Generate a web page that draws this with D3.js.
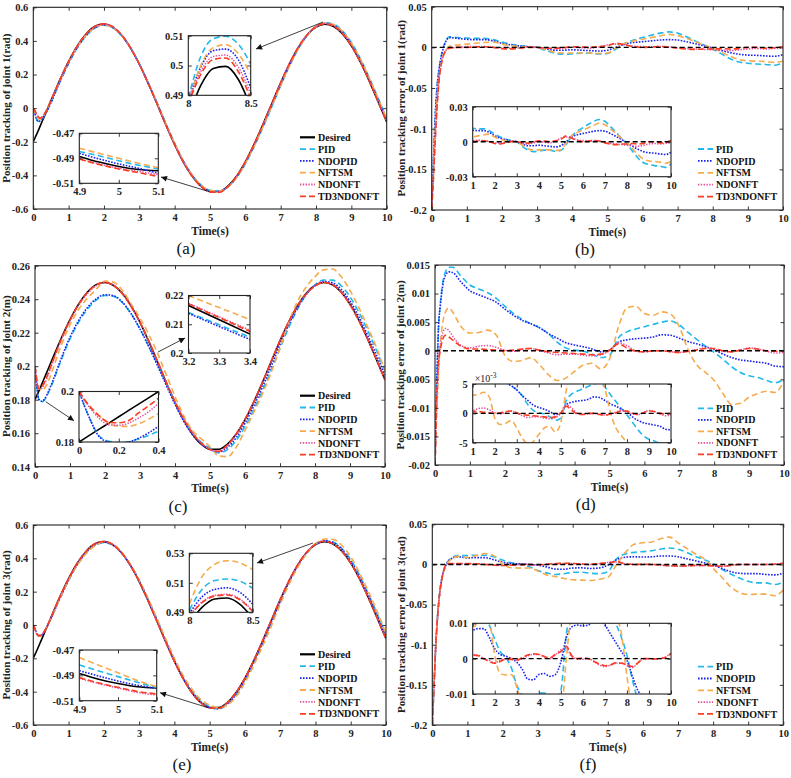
<!DOCTYPE html>
<html>
<head>
<meta charset="utf-8">
<script src="https://cdn.jsdelivr.net/npm/d3@7/dist/d3.min.js"></script>
<style>
  body { margin: 0; background: #fff; }
  svg text { font-family: "Liberation Serif", "Times New Roman", serif; }
</style>
</head>
<body>
<div id="chart"></div>
<script>
// ---- data ----
var time = [0,0.05,0.1,0.15,0.2,0.3,0.4,0.5,0.75,1,1.25,1.5,1.75,2,2.25,2.5,2.75,3,3.25,3.5,3.75,4,4.25,4.5,4.75,5,5.25,5.5,5.75,6,6.25,6.5,6.75,7,7.25,7.5,7.75,8,8.25,8.5,8.75,9,9.25,9.5,9.75,10];
var methods = ['PID','NDOPID','NFTSM','NDONFT','TD3NDONFT'];
var legendLabels = ['Desired','PID','NDOPID','NFTSM','NDONFT','TD3NDONFT'];

// desired trajectories
var desired1 = [-0.199,-0.176,-0.153,-0.129,-0.104,-0.055,-0.005,0.045,0.167,0.278,0.372,0.443,0.487,0.500,0.482,0.434,0.359,0.262,0.148,0.026,-0.099,-0.217,-0.322,-0.406,-0.466,-0.496,-0.496,-0.465,-0.405,-0.319,-0.214,-0.096,0.028,0.151,0.264,0.361,0.435,0.483,0.500,0.486,0.442,0.371,0.276,0.164,0.042,-0.082];
var desired2 = [0.1801,0.1824,0.1847,0.1871,0.1896,0.1945,0.1995,0.2045,0.2167,0.2278,0.2372,0.2443,0.2487,0.2500,0.2482,0.2434,0.2359,0.2262,0.2148,0.2026,0.1901,0.1783,0.1678,0.1594,0.1534,0.1504,0.1504,0.1535,0.1595,0.1681,0.1786,0.1904,0.2028,0.2151,0.2264,0.2361,0.2435,0.2483,0.2500,0.2486,0.2442,0.2371,0.2276,0.2164,0.2042,0.1918];
var desired3 = [-0.199,-0.176,-0.153,-0.129,-0.104,-0.055,-0.005,0.045,0.167,0.278,0.372,0.443,0.487,0.500,0.482,0.434,0.359,0.262,0.148,0.026,-0.099,-0.217,-0.322,-0.406,-0.466,-0.496,-0.496,-0.465,-0.405,-0.319,-0.214,-0.096,0.028,0.151,0.264,0.361,0.435,0.483,0.500,0.486,0.442,0.371,0.276,0.164,0.042,-0.082];

// tracking errors (desired - actual), joint 1
var err1PID = [-0.199,-0.14,-0.085,-0.05,-0.03,-0.005,0.008,0.013,0.012,0.0115,0.011,0.011,0.0095,0.0065,0.004,0.002,0.001,0.0,-0.004,-0.007,-0.0085,-0.008,-0.0072,-0.0072,-0.0082,-0.0075,-0.002,0.005,0.009,0.012,0.015,0.0175,0.019,0.0175,0.013,0.008,0.003,-0.002,-0.008,-0.014,-0.018,-0.0195,-0.0205,-0.021,-0.022,-0.019];
var err1NDOPID = [-0.199,-0.14,-0.085,-0.05,-0.03,-0.006,0.007,0.012,0.011,0.0098,0.0095,0.0095,0.008,0.005,0.003,0.0018,0.0008,0.0,-0.002,-0.0035,-0.0035,-0.003,-0.0035,-0.004,-0.0045,-0.0035,0.0,0.004,0.006,0.007,0.008,0.009,0.0095,0.009,0.007,0.0045,0.002,-0.001,-0.004,-0.0065,-0.0085,-0.0095,-0.0098,-0.0105,-0.011,-0.009];
var err1NFTSM = [-0.199,-0.15,-0.1,-0.065,-0.04,-0.015,-0.004,0.001,0.003,0.004,0.005,0.006,0.0065,0.004,0.002,0.001,0.0005,0.0,-0.003,-0.006,-0.007,-0.007,-0.007,-0.007,-0.0075,-0.007,-0.001,0.005,0.008,0.01,0.012,0.014,0.016,0.0145,0.011,0.007,0.003,-0.001,-0.006,-0.011,-0.015,-0.0165,-0.017,-0.0175,-0.0185,-0.017];
var err1NDONFT = [-0.199,-0.16,-0.115,-0.075,-0.045,-0.015,-0.004,-0.001,0.0,0.001,0.0012,0.001,0.0,-0.001,-0.0012,-0.0005,0.0005,0.0,-0.001,-0.002,-0.0012,0.0,-0.0005,-0.001,0.0005,0.003,0.004,0.003,0.0015,0.001,0.0008,0.001,0.0005,-0.0005,-0.0015,-0.002,-0.0025,-0.003,-0.0035,-0.004,-0.003,-0.002,-0.0015,-0.002,-0.0015,-0.001];
var err1TD3 = [-0.199,-0.16,-0.115,-0.075,-0.045,-0.015,-0.004,-0.001,0.0,0.0,0.0005,0.0008,0.0,-0.0015,-0.002,-0.001,0.0,0.0,-0.0008,-0.0012,-0.0002,0.0008,0.0005,0.0,0.0008,0.002,0.005,0.003,0.001,0.0,0.0005,0.001,0.0005,-0.001,-0.002,-0.0025,-0.002,-0.002,-0.0015,-0.002,-0.0015,0.0,0.0,-0.001,-0.0005,0.001];

// joint 2
var err2PID = [-0.02,-0.006,0.004,0.008,0.011,0.0138,0.0146,0.0146,0.013,0.0115,0.0108,0.0102,0.0092,0.0078,0.0065,0.0055,0.0047,0.004,0.003,0.0015,0.0005,0.0001,-0.0001,-0.0006,-0.0012,-0.0008,0.0022,0.0033,0.0038,0.0042,0.0046,0.005,0.0052,0.0045,0.0032,0.002,0.0008,-0.0003,-0.0015,-0.0028,-0.0038,-0.0044,-0.0047,-0.0052,-0.0056,-0.005];
var err2NDOPID = [-0.02,-0.006,0.004,0.0078,0.0105,0.0132,0.0138,0.0137,0.012,0.0105,0.0098,0.0092,0.0085,0.0073,0.0062,0.0053,0.0047,0.004,0.003,0.0022,0.0014,0.001,0.0007,0.0003,-0.0002,0.0001,0.0015,0.0019,0.0021,0.0022,0.0024,0.0028,0.0027,0.0022,0.0016,0.0012,0.0007,0.0002,-0.0006,-0.0012,-0.0016,-0.0018,-0.002,-0.0022,-0.0027,-0.0028];
var err2NFTSM = [-0.02,-0.011,-0.004,0.001,0.004,0.0068,0.0075,0.0068,0.0042,0.0031,0.0032,0.0036,0.0028,-0.0008,-0.0019,-0.0017,-0.0012,-0.0025,-0.0042,-0.0052,-0.0048,-0.0036,-0.0025,-0.0022,-0.0032,-0.0015,0.004,0.0075,0.0078,0.0065,0.0062,0.0068,0.0064,0.0042,0.0002,-0.0025,-0.0038,-0.0052,-0.0075,-0.0094,-0.0092,-0.0081,-0.0075,-0.0071,-0.0073,-0.0052];
var err2NDONFT = [-0.02,-0.0095,-0.0025,0.0008,0.0026,0.0039,0.0035,0.0026,0.0009,0.0005,0.0008,0.0009,0.0006,0.0001,-0.0001,0.0002,0.0004,0.0,-0.0004,-0.0007,-0.0006,-0.0006,-0.0008,-0.0009,-0.0007,0.0,0.0014,0.0009,0.0,-0.0002,-0.0001,0.0,-0.0002,-0.0003,-0.0001,0.0002,0.0005,0.0003,-0.0001,-0.0002,0.0001,0.0005,0.0003,-0.0001,-0.0004,-0.0003];
var err2TD3 = [-0.02,-0.008,-0.002,0.0,0.0016,0.0027,0.0024,0.0019,0.0008,0.0003,0.0003,0.0002,0.0001,0.0,0.0001,0.0003,0.0004,0.0001,-0.0002,-0.0003,-0.0004,-0.0005,-0.0006,-0.0007,-0.0006,0.0001,0.0012,0.0005,-0.0001,-0.0002,0.0,0.0,-0.0002,-0.0003,-0.0001,0.0001,0.0004,0.0004,0.0,-0.0002,0.0001,0.0004,0.0003,0.0,-0.0001,0.0];

// joint 3
var err3PID = [-0.199,-0.15,-0.1,-0.065,-0.04,-0.012,0.0,0.007,0.011,0.011,0.0115,0.0115,0.0095,0.0055,0.002,0.0003,-0.0025,-0.0075,-0.0105,-0.0125,-0.0115,-0.0098,-0.0097,-0.011,-0.0115,-0.009,0.007,0.013,0.015,0.016,0.017,0.019,0.0205,0.019,0.015,0.01,0.006,0.001,-0.006,-0.012,-0.017,-0.021,-0.023,-0.023,-0.025,-0.022];
var err3NDOPID = [-0.199,-0.15,-0.1,-0.065,-0.04,-0.012,0.0,0.006,0.0095,0.0081,0.0085,0.0085,0.006,0.0028,0.0012,0.0007,0.0,-0.001,-0.003,-0.0058,-0.006,-0.0045,-0.0042,-0.005,-0.0045,-0.001,0.006,0.009,0.0095,0.0093,0.0095,0.0105,0.0105,0.0095,0.007,0.0045,0.002,-0.0005,-0.005,-0.009,-0.011,-0.0115,-0.0115,-0.0125,-0.013,-0.011];
var err3NFTSM = [-0.199,-0.15,-0.1,-0.065,-0.04,-0.013,-0.001,0.005,0.01,0.0085,0.011,0.0135,0.011,0.001,-0.0042,-0.0046,-0.0045,-0.008,-0.013,-0.015,-0.0175,-0.019,-0.0195,-0.02,-0.0185,-0.016,0.0,0.015,0.025,0.027,0.028,0.032,0.034,0.027,0.02,0.013,0.007,-0.005,-0.016,-0.028,-0.035,-0.0375,-0.037,-0.037,-0.039,-0.032];
var err3NDONFT = [-0.199,-0.15,-0.1,-0.065,-0.04,-0.012,0.0,0.001,0.001,0.001,0.001,0.0,-0.0005,-0.0012,-0.0005,0.0,0.0002,-0.0005,0.0,0.0008,0.0012,0.0012,0.0005,0.0,0.001,0.0025,0.003,0.0005,0.0,-0.0002,0.0,-0.0008,-0.0018,-0.0022,-0.0018,-0.0012,-0.0012,-0.002,-0.0025,-0.0012,0.0,0.0,-0.0001,0.0,0.0005,0.0015];
var err3TD3 = [-0.199,-0.15,-0.1,-0.065,-0.04,-0.012,0.0,0.001,0.001,0.001,0.0008,0.0,-0.0008,-0.0013,-0.0008,-0.0002,-0.0002,-0.0004,0.0003,0.001,0.0014,0.0012,0.0006,0.0002,0.0012,0.002,0.0035,0.0008,0.0,0.0002,0.0,-0.0008,-0.0015,-0.002,-0.0018,-0.0012,-0.0013,-0.0018,-0.0022,-0.0012,0.0,0.0,-0.0001,0.0,0.0003,0.0015];

// zoomed views of the tracking plots
var zoomA1Time = [8,8.1,8.2,8.3,8.4,8.5];
var zoomA1Desired = [0.4827,0.4933,0.4990,0.4997,0.4954,0.4861];
var zoomA1PID = [0.489,0.503,0.509,0.5098,0.5072,0.5005];
var zoomA1NDOPID = [0.488,0.4995,0.505,0.5055,0.502,0.4925];
var zoomA1NFTSM = [0.487,0.500,0.506,0.507,0.504,0.497];
var zoomA1NDONFT = [0.4875,0.498,0.503,0.5035,0.4995,0.4905];
var zoomA1TD3 = [0.487,0.497,0.502,0.5025,0.498,0.489];

var zoomA2Time = [4.9,4.95,5,5.05,5.1];
var zoomA2Desired = [-0.4885,-0.493,-0.4965,-0.499,-0.5];
var zoomA2PID = [-0.4845,-0.488,-0.492,-0.4955,-0.4985];
var zoomA2NDOPID = [-0.486,-0.4905,-0.4945,-0.498,-0.502];
var zoomA2NFTSM = [-0.482,-0.486,-0.490,-0.494,-0.4975];
var zoomA2NDONFT = [-0.4905,-0.4945,-0.498,-0.5005,-0.503];
var zoomA2TD3 = [-0.4905,-0.495,-0.4985,-0.5015,-0.5045];

var zoomC1Time = [3.2,3.3,3.4];
var zoomC1Desired = [0.2165,0.2116,0.2066];
var zoomC1PID = [0.2141,0.2098,0.2055];
var zoomC1NDOPID = [0.2138,0.2092,0.2047];
var zoomC1NFTSM = [0.2200,0.2158,0.2116];
var zoomC1NDONFT = [0.2173,0.2126,0.2079];
var zoomC1TD3 = [0.2171,0.2123,0.2075];

var zoomC2Time = [0,0.05,0.1,0.15,0.2,0.25,0.3,0.35,0.4];
var zoomC2Desired = [0.18,0.1825,0.185,0.1875,0.19,0.1925,0.195,0.1975,0.2];
var zoomC2PID = [0.2,0.19,0.1825,0.1803,0.1798,0.1801,0.1812,0.1826,0.1843];
var zoomC2NDOPID = [0.2,0.19,0.1823,0.18,0.1796,0.18,0.1815,0.1836,0.1862];
var zoomC2NFTSM = [0.2,0.1945,0.1905,0.1875,0.1862,0.1862,0.1872,0.189,0.1912];
var zoomC2NDONFT = [0.2,0.194,0.1895,0.1868,0.1866,0.1875,0.1895,0.192,0.1953];
var zoomC2TD3 = [0.2,0.1945,0.1905,0.1878,0.1876,0.1885,0.1915,0.1943,0.1973];

var zoomE1Time = [8,8.1,8.2,8.3,8.4,8.5];
var zoomE1Desired = [0.4827,0.4933,0.4990,0.4997,0.4954,0.4861];
var zoomE1PID = [0.4915,0.5055,0.5115,0.5126,0.511,0.5063];
var zoomE1NDOPID = [0.489,0.5005,0.5055,0.5066,0.5035,0.4955];
var zoomE1NFTSM = [0.4955,0.514,0.5225,0.525,0.5235,0.519];
var zoomE1NDONFT = [0.4875,0.497,0.5015,0.5022,0.499,0.491];
var zoomE1TD3 = [0.487,0.4965,0.501,0.5017,0.4985,0.4905];

var zoomE2Time = [4.9,4.95,5,5.05,5.1];
var zoomE2Desired = [-0.4885,-0.493,-0.4965,-0.499,-0.5];
var zoomE2PID = [-0.4818,-0.4865,-0.491,-0.4955,-0.4997];
var zoomE2NDOPID = [-0.4863,-0.4905,-0.4945,-0.4978,-0.5003];
var zoomE2NFTSM = [-0.476,-0.482,-0.488,-0.494,-0.499];
var zoomE2NDONFT = [-0.4924,-0.4965,-0.5,-0.5035,-0.5055];
var zoomE2TD3 = [-0.4918,-0.496,-0.4995,-0.5027,-0.5047];

// tick values
var xTicksMain = [0,1,2,3,4,5,6,7,8,9,10];
var xTicksZoomErr = [1,2,3,4,5,6,7,8,9,10];
var yTicksPos = [-0.6,-0.4,-0.2,0,0.2,0.4,0.6];
var yTicksPos2 = [0.14,0.16,0.18,0.2,0.22,0.24,0.26];
var yTicksErr = [-0.2,-0.15,-0.1,-0.05,0,0.05];
var yTicksErr2 = [-0.02,-0.015,-0.01,-0.005,0,0.005,0.01,0.015];
var referenceLevel = 0;

// ---- styles ----
var styles = {
  Desired:   { color: '#000000', dash: null,      w: 1.6 },
  PID:       { color: '#22b9ea', dash: '6,3.5',   w: 1.6 },
  NDOPID:    { color: '#1b24ee', dash: '1.6,1.4', w: 1.6 },
  NFTSM:     { color: '#f6ab4e', dash: '6,3.5',   w: 1.6 },
  NDONFT:    { color: '#e2509e', dash: '1.4,1.4', w: 1.5 },
  TD3NDONFT: { color: '#fa3c20', dash: '6,3',     w: 1.6 }
};
var FONT = '"Liberation Serif","Times New Roman",serif';

var svg = d3.select('#chart').append('svg')
  .attr('width', 791).attr('height', 778);
var defs = svg.append('defs');
defs.append('marker')
  .attr('id', 'arrow').attr('viewBox', '0 0 10 10')
  .attr('refX', 10).attr('refY', 5)
  .attr('markerWidth', 8).attr('markerHeight', 6)
  .attr('markerUnits', 'userSpaceOnUse')
  .attr('orient', 'auto')
  .append('path').attr('d', 'M0,0 L10,5 L0,10 Z').attr('fill', '#111');

var clipCount = 0;
function makeClip(x0, y0, w, h) {
  var id = 'clip' + (clipCount++);
  defs.append('clipPath').attr('id', id)
    .append('rect').attr('x', x0).attr('y', y0).attr('width', w).attr('height', h);
  return id;
}

var line = function(x, y) {
  return d3.line().curve(d3.curveMonotoneX)
    .x(function(d) { return x(d[0]); })
    .y(function(d) { return y(d[1]); });
};

function drawSeries(g, x, y, xs, map, order) {
  var path = line(x, y);
  order.forEach(function(k) {
    if (!map[k]) return;
    var st = styles[k];
    g.append('path')
      .datum(xs.map(function(t, i) { return [t, map[k][i]]; }))
      .attr('d', path)
      .attr('fill', 'none')
      .attr('stroke', st.color)
      .attr('stroke-width', st.w)
      .attr('stroke-dasharray', st.dash);
  });
}

function drawRef(g, x, y) {
  var d = x.domain();
  g.append('path')
    .datum([[d[0], referenceLevel], [d[1], referenceLevel]])
    .attr('d', d3.line().x(function(p) { return x(p[0]); }).y(function(p) { return y(p[1]); }))
    .attr('fill', 'none').attr('stroke', '#000')
    .attr('stroke-width', 1.4).attr('stroke-dasharray', '5,3');
}

function styleAxis(a) {
  a.attr('font-family', FONT).attr('font-size', 10.5).attr('font-weight', 'bold');
  a.selectAll('.domain').remove();
  a.selectAll('line').attr('stroke', '#222').attr('stroke-width', 0.9);
  a.selectAll('text').attr('fill', '#222');
}

function box(g, x, y, xTicks, yTicks, yFmt) {
  var xr = x.range(), yr = y.range();
  var tl = -3.5;
  styleAxis(g.append('g').attr('transform', 'translate(0,' + yr[0] + ')')
    .call(d3.axisBottom(x).tickValues(xTicks).tickSize(tl).tickPadding(4.5).tickFormat(String)));
  styleAxis(g.append('g').attr('transform', 'translate(0,' + yr[1] + ')')
    .call(d3.axisTop(x).tickValues(xTicks).tickSize(tl).tickFormat('')));
  styleAxis(g.append('g').attr('transform', 'translate(' + xr[0] + ',0)')
    .call(d3.axisLeft(y).tickValues(yTicks).tickSize(tl).tickPadding(5).tickFormat(yFmt || String)));
  styleAxis(g.append('g').attr('transform', 'translate(' + xr[1] + ',0)')
    .call(d3.axisRight(y).tickValues(yTicks).tickSize(tl).tickFormat('')));
  g.append('rect')
    .attr('x', xr[0]).attr('y', yr[1])
    .attr('width', xr[1] - xr[0]).attr('height', yr[0] - yr[1])
    .attr('fill', 'none').attr('stroke', '#222').attr('stroke-width', 1.1);
}

function axesArea(g, p, xDomain, yDomain, white) {
  var x = d3.scaleLinear().domain(xDomain).range([p.left, p.right]);
  var y = d3.scaleLinear().domain(yDomain).range([p.bottom, p.top]);
  if (white) {
    g.append('rect').attr('x', p.left).attr('y', p.top)
      .attr('width', p.right - p.left).attr('height', p.bottom - p.top).attr('fill', '#fff');
  }
  var cid = makeClip(p.left, p.top, p.right - p.left, p.bottom - p.top);
  var inner = g.append('g').attr('clip-path', 'url(#' + cid + ')');
  return { x: x, y: y, inner: inner };
}

function arrow(g, a) {
  g.append('line')
    .attr('x1', a[0]).attr('y1', a[1]).attr('x2', a[2]).attr('y2', a[3])
    .attr('stroke', '#111').attr('stroke-width', 0.8)
    .attr('marker-end', 'url(#arrow)');
}

function legend(g, lg, keys) {
  keys.forEach(function(k, i) {
    var yy = lg.y + i * lg.dy, st = styles[k];
    g.append('line')
      .attr('x1', lg.x).attr('x2', lg.x + 15).attr('y1', yy).attr('y2', yy)
      .attr('stroke', st.color).attr('stroke-width', k === 'Desired' ? 2.2 : 1.8)
      .attr('stroke-dasharray', st.dash);
    g.append('text').attr('x', lg.x + 18).attr('y', yy + 3.6)
      .attr('font-family', FONT).attr('font-weight', 'bold').attr('font-size', 10)
      .attr('fill', '#111').text(k);
  });
}

function titles(g, p, yTitle, tag) {
  g.append('text')
    .attr('x', (p.left + p.right) / 2).attr('y', p.bottom + 25.5)
    .attr('text-anchor', 'middle')
    .attr('font-family', FONT).attr('font-weight', 'bold').attr('font-size', 11.5)
    .attr('fill', '#222').text('Time(s)');
  g.append('text')
    .attr('transform', 'translate(' + p.ytx + ',' + ((p.top + p.bottom) / 2) + ') rotate(-90)')
    .attr('text-anchor', 'middle').attr('dy', '0.35em')
    .attr('font-family', FONT).attr('font-weight', 'bold').attr('font-size', 11)
    .attr('fill', '#222').text(yTitle);
  g.append('text')
    .attr('x', p.tagX).attr('y', p.bottom + 45)
    .attr('text-anchor', 'middle')
    .attr('font-family', FONT).attr('font-size', 17)
    .attr('fill', '#111').text(tag);
}

// tracking panel
function trackingPanel(p, desired, errs, yTicks, yDomain, yTitle, tag, zooms) {
  var g = svg.append('g');
  var track = { Desired: desired };
  methods.forEach(function(m) {
    track[m] = time.map(function(t, i) { return desired[i] - errs[m][i]; });
  });
  var ax = axesArea(g, p, [0, 10], yDomain, false);
  drawSeries(ax.inner, ax.x, ax.y, time, track, legendLabels);
  box(g, ax.x, ax.y, xTicksMain, yTicks);
  zooms.forEach(function(z) {
    var zi = axesArea(g, z.box, z.xDomain, z.yDomain, true);
    drawSeries(zi.inner, zi.x, zi.y, z.time, z.data, legendLabels);
    box(g, zi.x, zi.y, z.xTicks, z.yTicks);
    arrow(g, z.arrow);
  });
  legend(g, p.legend, legendLabels);
  titles(g, p, yTitle, tag);
}

// error panel
function errorPanel(p, errs, yTicks, yDomain, yTitle, tag, z) {
  var g = svg.append('g');
  var ax = axesArea(g, p, [0, 10], yDomain, false);
  drawSeries(ax.inner, ax.x, ax.y, time, errs, methods);
  drawRef(ax.inner, ax.x, ax.y);
  box(g, ax.x, ax.y, xTicksMain, yTicks);
  var zi = axesArea(g, z.box, [1, 10], z.yDomain, true);
  drawSeries(zi.inner, zi.x, zi.y, time, errs, methods);
  drawRef(zi.inner, zi.x, zi.y);
  box(g, zi.x, zi.y, xTicksZoomErr, z.yTicks, z.yFmt);
  if (z.exponent) {
    var t = g.append('text').attr('x', z.box.left + 2).attr('y', z.box.top - 2)
      .attr('font-family', FONT).attr('font-size', 10).attr('fill', '#222');
    t.append('tspan').text('\u00d710');
    t.append('tspan').attr('dy', -4).attr('font-size', 7.5).text(z.exponent);
  }
  legend(g, p.legend, methods);
  titles(g, p, yTitle, tag);
}

function pick(prefix) {
  var src = {
    A1: [zoomA1Desired, zoomA1PID, zoomA1NDOPID, zoomA1NFTSM, zoomA1NDONFT, zoomA1TD3],
    A2: [zoomA2Desired, zoomA2PID, zoomA2NDOPID, zoomA2NFTSM, zoomA2NDONFT, zoomA2TD3],
    C1: [zoomC1Desired, zoomC1PID, zoomC1NDOPID, zoomC1NFTSM, zoomC1NDONFT, zoomC1TD3],
    C2: [zoomC2Desired, zoomC2PID, zoomC2NDOPID, zoomC2NFTSM, zoomC2NDONFT, zoomC2TD3],
    E1: [zoomE1Desired, zoomE1PID, zoomE1NDOPID, zoomE1NFTSM, zoomE1NDONFT, zoomE1TD3],
    E2: [zoomE2Desired, zoomE2PID, zoomE2NDOPID, zoomE2NFTSM, zoomE2NDONFT, zoomE2TD3]
  }[prefix];
  var out = {};
  legendLabels.forEach(function(k, i) { out[k] = src[i]; });
  return out;
}
function errMap(a) {
  var out = {};
  methods.forEach(function(k, i) { out[k] = a[i]; });
  return out;
}

// (a)
trackingPanel(
  { left: 33.3, right: 386.7, top: 7.3, bottom: 209, ytx: 6, tagX: 186,
    legend: { x: 300, y: 137.3, dy: 11.8 } },
  desired1, errMap([err1PID, err1NDOPID, err1NFTSM, err1NDONFT, err1TD3]),
  yTicksPos, [-0.6, 0.6], 'Position tracking of joint 1(rad)', '(a)',
  [ { box: { left: 188.3, right: 250.7, top: 35.7, bottom: 95.3 }, xDomain: [8, 8.5], yDomain: [0.49, 0.51],
      xTicks: [8, 8.5], yTicks: [0.49, 0.5, 0.51], time: zoomA1Time, data: pick('A1'), arrow: [323, 22, 256, 49] },
    { box: { left: 79.3, right: 158.3, top: 133.3, bottom: 183.3 }, xDomain: [4.9, 5.1], yDomain: [-0.51, -0.47],
      xTicks: [4.9, 5, 5.1], yTicks: [-0.51, -0.49, -0.47], time: zoomA2Time, data: pick('A2'), arrow: [207, 191, 161, 177] } ]);

// (b)
errorPanel(
  { left: 431.7, right: 783, top: 6.7, bottom: 210, ytx: 401, tagX: 585,
    legend: { x: 698, y: 149, dy: 11.9 } },
  errMap([err1PID, err1NDOPID, err1NFTSM, err1NDONFT, err1TD3]),
  yTicksErr, [-0.2, 0.05], 'Position tracking error of joint 1(rad)', '(b)',
  { box: { left: 472.7, right: 671, top: 106.7, bottom: 176.7 }, yDomain: [-0.03, 0.03], yTicks: [-0.03, 0, 0.03] });

// (c)
trackingPanel(
  { left: 35, right: 385, top: 265.7, bottom: 466.7, ytx: 6, tagX: 178,
    legend: { x: 300, y: 395.7, dy: 11.8 } },
  desired2, errMap([err2PID, err2NDOPID, err2NFTSM, err2NDONFT, err2TD3]),
  yTicksPos2, [0.14, 0.26], 'Position tracking of joint 2(m)', '(c)',
  [ { box: { left: 188.5, right: 250, top: 295.5, bottom: 353 }, xDomain: [3.2, 3.4], yDomain: [0.2, 0.22],
      xTicks: [3.2, 3.3, 3.4], yTicks: [0.2, 0.21, 0.22], time: zoomC1Time, data: pick('C1'), arrow: [158, 352, 185, 338] },
    { box: { left: 79, right: 158.5, top: 391.5, bottom: 442 }, xDomain: [0, 0.4], yDomain: [0.18, 0.2],
      xTicks: [0, 0.2, 0.4], yTicks: [0.18, 0.2], time: zoomC2Time, data: pick('C2'), arrow: [45.7, 401.7, 74, 420.7] } ]);

// (d)
errorPanel(
  { left: 435, right: 784, top: 265, bottom: 465, ytx: 400, tagX: 585.7,
    legend: { x: 698, y: 408.3, dy: 11.5 } },
  errMap([err2PID, err2NDOPID, err2NFTSM, err2NDONFT, err2TD3]),
  yTicksErr2, [-0.02, 0.015], 'Position tracking error of joint 2(m)', '(d)',
  { box: { left: 472.7, right: 671, top: 384, bottom: 442.7 }, yDomain: [-0.005, 0.005], yTicks: [-0.005, 0, 0.005],
    yFmt: function(d) { return String(Math.round(d * 1000)); }, exponent: '-3' });

// (e)
trackingPanel(
  { left: 33.3, right: 386, top: 525, bottom: 725, ytx: 6, tagX: 182,
    legend: { x: 300, y: 654.3, dy: 11.9 } },
  desired3, errMap([err3PID, err3NDOPID, err3NFTSM, err3NDONFT, err3TD3]),
  yTicksPos, [-0.6, 0.6], 'Position tracking of joint 3(rad)', '(e)',
  [ { box: { left: 189.3, right: 252.7, top: 553.3, bottom: 612.3 }, xDomain: [8, 8.5], yDomain: [0.49, 0.53],
      xTicks: [8, 8.5], yTicks: [0.49, 0.51, 0.53], time: zoomE1Time, data: pick('E1'), arrow: [313, 543, 257, 563] },
    { box: { left: 79.3, right: 156.7, top: 650, bottom: 700.7 }, xDomain: [4.9, 5.1], yDomain: [-0.51, -0.47],
      xTicks: [4.9, 5, 5.1], yTicks: [-0.51, -0.49, -0.47], time: zoomE2Time, data: pick('E2'), arrow: [208, 707.7, 160, 692.7] } ]);

// (f)
errorPanel(
  { left: 432.3, right: 783.3, top: 524.3, bottom: 725, ytx: 401, tagX: 588,
    legend: { x: 698, y: 666.7, dy: 11.8 } },
  errMap([err3PID, err3NDOPID, err3NFTSM, err3NDONFT, err3TD3]),
  yTicksErr, [-0.2, 0.05], 'Position tracking error of joint 3(rad)', '(f)',
  { box: { left: 472.7, right: 671, top: 623.3, bottom: 694 }, yDomain: [-0.01, 0.01], yTicks: [-0.01, 0, 0.01] });
</script>
</body>
</html>
